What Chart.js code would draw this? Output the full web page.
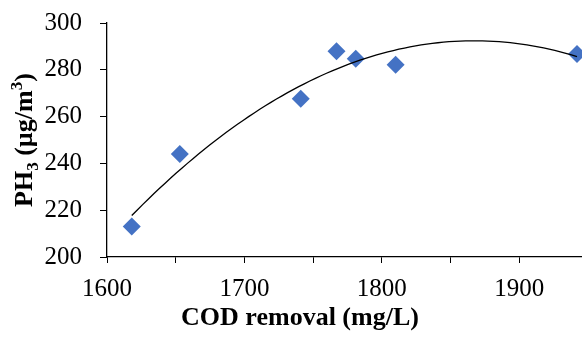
<!DOCTYPE html>
<html>
<head>
<meta charset="utf-8">
<script src="https://cdn.jsdelivr.net/npm/chart.js@4.4.0/dist/chart.umd.min.js"></script>
<style>
  html, body { margin: 0; padding: 0; background: #fff; overflow: hidden; }
  #wrap { width: 597px; height: 341px; }
</style>
</head>
<body>
<div id="wrap"><canvas id="phChart" width="597" height="341"></canvas></div>
<script>
// COD removal (mg/L) vs PH3 (ug/m3)
var codRemoval = [1618, 1653, 1741, 1767, 1781, 1810, 1942];
var ph3 = [213, 244, 267.6, 287.9, 284.7, 282.2, 286.7];

var xTicks = [1600, 1700, 1800, 1900];
var yTicks = [200, 220, 240, 260, 280, 300];

var serif = "'Liberation Serif', 'Times New Roman', serif";

// second order polynomial trendline (least squares, like Excel's)
function polyFit2(xs, ys) {
  var mx = 0;
  xs.forEach(function(v) { mx += v; });
  mx /= xs.length;
  var s = [0, 0, 0, 0, 0], t = [0, 0, 0];
  xs.forEach(function(v, i) {
    var u = v - mx;
    for (var k = 0; k < 5; k++) s[k] += Math.pow(u, k);
    for (var k2 = 0; k2 < 3; k2++) t[k2] += ys[i] * Math.pow(u, k2);
  });
  // solve 3x3 normal equations
  var m = [[s[0], s[1], s[2], t[0]], [s[1], s[2], s[3], t[1]], [s[2], s[3], s[4], t[2]]];
  for (var c = 0; c < 3; c++) {
    for (var r = c + 1; r < 3; r++) {
      var f = m[r][c] / m[c][c];
      for (var j = c; j < 4; j++) m[r][j] -= f * m[c][j];
    }
  }
  var b = [0, 0, 0];
  for (var r2 = 2; r2 >= 0; r2--) {
    var acc = m[r2][3];
    for (var j2 = r2 + 1; j2 < 3; j2++) acc -= m[r2][j2] * b[j2];
    b[r2] = acc / m[r2][r2];
  }
  return function(x) { var u = x - mx; return b[0] + b[1] * u + b[2] * u * u; };
}

var fit = polyFit2(codRemoval, ph3);
var xMin = Math.min.apply(null, codRemoval), xMax = Math.max.apply(null, codRemoval);
var trend = [];
for (var i = 0; i <= 80; i++) {
  var xv = xMin + (xMax - xMin) * i / 80;
  trend.push({ x: xv, y: fit(xv) });
}

var points = codRemoval.map(function(v, i) { return { x: v, y: ph3[i] }; });

// axis titles (the y one needs a subscript and a superscript)
var titlesPlugin = {
  id: 'axisTitles',
  afterDraw: function(chart) {
    var ctx = chart.ctx;
    ctx.save();
    ctx.fillStyle = '#000';
    ctx.textBaseline = 'alphabetic';

    ctx.font = 'bold 26px ' + serif;
    ctx.textAlign = 'center';
    ctx.fillText('COD removal (mg/L)', 300, 325);

    var parts = [
      { t: 'PH', size: 26, dy: 0 },
      { t: '3', size: 17, dy: 6 },
      { t: ' (\u00b5g/m', size: 26, dy: 0 },
      { t: '3', size: 17, dy: -10 },
      { t: ')', size: 26, dy: 0 }
    ];
    var total = 0;
    parts.forEach(function(p) {
      ctx.font = 'bold ' + p.size + 'px ' + serif;
      p.w = ctx.measureText(p.t).width;
      total += p.w;
    });
    var cy = (chart.chartArea.top + chart.chartArea.bottom) / 2;
    ctx.translate(32, cy);
    ctx.rotate(-Math.PI / 2);
    ctx.textAlign = 'left';
    var x = -total / 2;
    parts.forEach(function(p) {
      ctx.font = 'bold ' + p.size + 'px ' + serif;
      ctx.fillText(p.t, x, p.dy);
      x += p.w;
    });
    ctx.restore();
  }
};

// keep the plot area where the reference has it
function noPad(scale) {
  scale.paddingTop = 0;
  scale.paddingBottom = 0;
  scale.paddingLeft = 0;
  scale.paddingRight = 0;
}

var ctx = document.getElementById('phChart').getContext('2d');

var myChart = new Chart(ctx, {
  type: 'scatter',
  data: {
    datasets: [
      {
        label: 'PH3',
        data: points,
        pointStyle: 'rectRot',
        radius: 9,
        hoverRadius: 9,
        backgroundColor: '#4472C4',
        borderColor: '#4472C4',
        borderWidth: 0,
        order: 2
      },
      {
        label: 'Trend',
        type: 'line',
        data: trend,
        borderColor: '#000',
        borderWidth: 1.3,
        pointRadius: 0,
        fill: false,
        tension: 0,
        order: 1
      }
    ]
  },
  options: {
    responsive: false,
    devicePixelRatio: 1,
    animation: false,
    layout: { padding: { top: 23, left: 0, right: 0, bottom: 0 } },
    plugins: {
      legend: { display: false },
      tooltip: { enabled: false }
    },
    scales: {
      x: {
        type: 'linear',
        min: 1600,
        max: 1950,
        afterFit: function(scale) { scale.height = 84; noPad(scale); },
        afterBuildTicks: function(scale) {
          var t = [];
          for (var v = 1600; v <= 1950; v += 50) t.push({ value: v });
          scale.ticks = t;
        },
        ticks: {
          autoSkip: false,
          maxRotation: 0,
          padding: 11,
          color: '#000',
          font: { family: serif, size: 25 },
          callback: function(v) { return xTicks.indexOf(v) >= 0 ? String(v) : ''; }
        },
        grid: { drawOnChartArea: false, drawTicks: true, tickLength: 6, color: '#000' },
        border: { color: '#000', width: 1.3 }
      },
      y: {
        min: 200,
        max: 300,
        afterFit: function(scale) { scale.width = 107; noPad(scale); },
        afterBuildTicks: function(scale) {
          scale.ticks = yTicks.map(function(v) { return { value: v }; });
        },
        ticks: {
          padding: 18,
          color: '#000',
          font: { family: serif, size: 25 }
        },
        grid: { drawOnChartArea: false, drawTicks: true, tickLength: 7, color: '#000' },
        border: { color: '#000', width: 1.3 }
      }
    }
  },
  plugins: [titlesPlugin]
});
</script>
</body>
</html>
